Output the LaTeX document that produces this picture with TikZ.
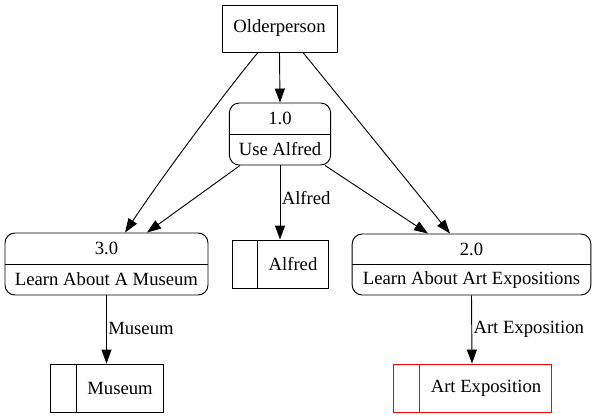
\documentclass[tikz,border=0pt]{standalone}
\usepackage{fontspec}
\setmainfont{Liberation Serif}
\newfontfamily\timesfont{Liberation Serif}
\usetikzlibrary{arrows.meta,calc}
\begin{document}
\begin{tikzpicture}[x=0.75pt,y=-0.75pt,
  font=\timesfont\fontsize{14pt}{16pt}\selectfont,
  line width=0.7pt,
  ent/.style={draw,minimum width=86.25pt,minimum height=35.25pt,inner sep=0pt},
  proc/.style={draw,rounded corners=7.5pt,minimum height=46.5pt,inner sep=0pt},
  store/.style={draw,minimum height=36pt,inner sep=0pt},
  txt/.style={inner sep=0pt},
  lbl/.style={inner sep=0pt,anchor=west,xshift=1pt},
  flow/.style={-{Triangle[length=10.5pt,width=7.5pt]}}
]
\useasboundingbox (0,0) rectangle (597,419);
% external entity
\node[ent] (o) at (279.5,28.5) {Olderperson};
% processes
\node[proc,minimum width=76pt] (p1) at (280,134) {};
\draw (p1.west) -- (p1.east);
\node[txt] (p1a) at (280,118.5) {1.0};
\node[txt] (p1b) at (280,149.5) {Use Alfred};

\node[proc,minimum width=152.25pt] (p3) at (106.5,264) {};
\draw (p3.west) -- (p3.east);
\node[txt] (p3a) at (106.5,248.5) {3.0};
\node[txt] (p3b) at (106.5,279.5) {Learn About A Museum};

\node[proc,minimum width=179pt,minimum height=45.75pt] (p2) at (471.5,264.5) {};
\draw (p2.west) -- (p2.east);
\node[txt] (p2a) at (471.5,249) {2.0};
\node[txt] (p2b) at (471.5,280) {Learn About Art Expositions};

% data stores
\node[store,minimum width=72pt] (sa) at (280,264) {};
\draw (sa.north west) ++(26,0) coordinate (sad) -- (sad |- sa.south);
\node[txt] (sat) at (293,264) {Alfred};

\node[store,minimum width=84.75pt] (sm) at (106.5,388) {};
\draw (sm.north west) ++(27,0) coordinate (smd) -- (smd |- sm.south);
\node[txt] (smt) at (120,388) {Museum};

\node[store,draw=red,minimum width=118.5pt] (se) at (472,388) {};
\draw[red] (se.north west) ++(27,0) coordinate (sed) -- (sed |- se.south);
\node[txt] (set) at (486,388) {Art Exposition};

% flows
\draw[flow] (o.south) -- (p1.north);
\draw[flow] ($(o.south)+(-21.5,0)$) .. controls (235,80) and (170,165) .. ($(p3.north)+(18.5,0)$);
\draw[flow] ($(o.south)+(23.5,0)$) -- ($(p2.north)+(-21.5,0)$);
\draw[flow] ($(p1.south)+(-40,0)$) -- ($(p3.north)+(40.5,0)$);
\draw[flow] ($(p1.south)+(45,0)$) -- ($(p2.north)+(-43.5,0)$);
\draw[flow] (p1.south) -- node[lbl,pos=0.44] (l1) {Alfred} (sa.north);
\draw[flow] (p3.south) -- node[lbl,pos=0.49] (l3) {Museum} (sm.north);
\draw[flow] (p2.south) -- node[lbl,pos=0.49] (l2) {Art Exposition} (se.north);
\end{tikzpicture}
\end{document}
